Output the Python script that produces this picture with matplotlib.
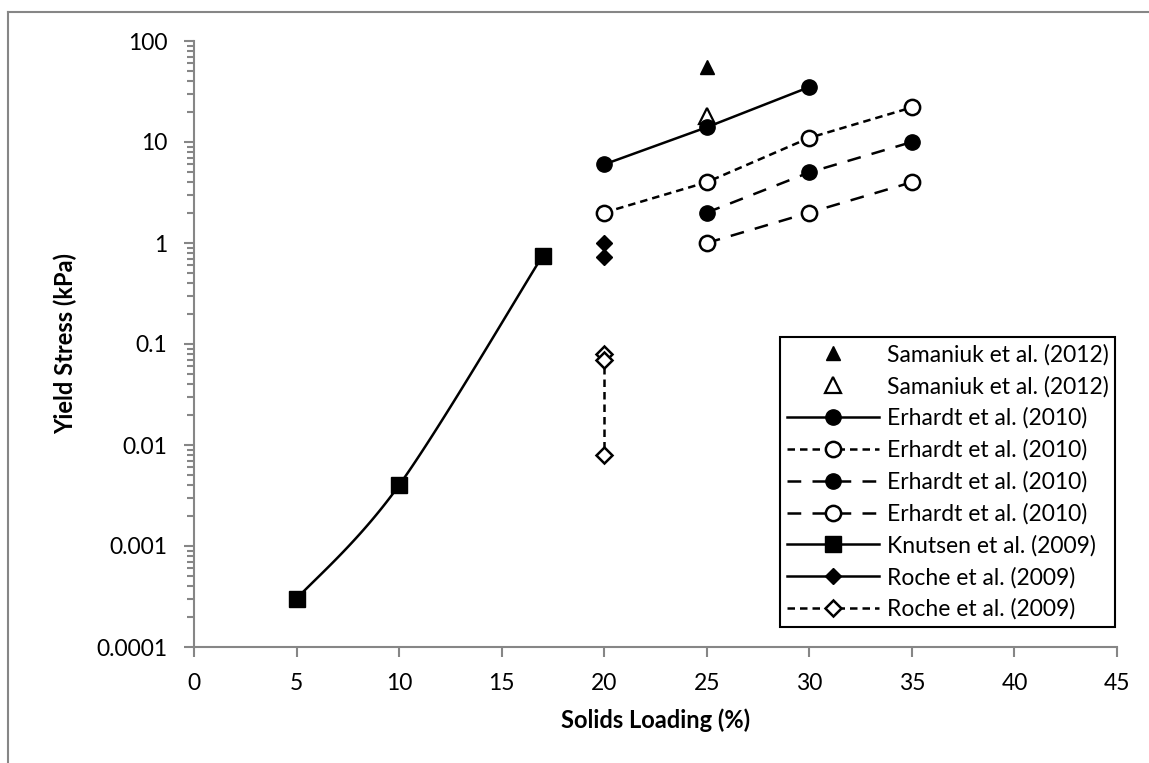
import numpy as np
import matplotlib
matplotlib.use("Agg")
import matplotlib.pyplot as plt
from matplotlib.lines import Line2D
from matplotlib.ticker import LogLocator, NullFormatter, FixedLocator

plt.rcParams['font.family'] = ['Lato', 'DejaVu Sans']

# ---- data ----
sam1_x = [25]
sam1_y = [55]
sam2_x = [25]
sam2_y = [18]
erh1_x = [20, 25, 30]
erh1_y = [6, 14, 35]
erh2_x = [20, 25, 30, 35]
erh2_y = [2, 4, 11, 22]
erh3_x = [25, 30, 35]
erh3_y = [2, 5, 10]
erh4_x = [25, 30, 35]
erh4_y = [1, 2, 4]
knu_x = [5, 10, 17]
knu_y = [0.0003, 0.004, 0.75]
roc1_x = [20, 20]
roc1_y = [1, 0.72]
roc2_x = [20, 20, 20]
roc2_y = [0.08, 0.07, 0.008]

labels = ["Samaniuk et al. (2012)", "Samaniuk et al. (2012)",
          "Erhardt et al. (2010)", "Erhardt et al. (2010)",
          "Erhardt et al. (2010)", "Erhardt et al. (2010)",
          "Knutsen et al. (2009)", "Roche et al. (2009)", "Roche et al. (2009)"]
x_ticks = [0, 5, 10, 15, 20, 25, 30, 35, 40, 45]
y_ticks = [0.0001, 0.001, 0.01, 0.1, 1, 10, 100]
y_ticklabels = ["0.0001", "0.001", "0.01", "0.1", "1", "10", "100"]

TICK_FS = 16.5
LABEL_FS = 17
LEG_FS = 16.5

W, H = 1149, 763
fig = plt.figure(figsize=(W / 100, H / 100), dpi=100)
ax = fig.add_axes([194 / W, 1 - 647 / H, (1117 - 194) / W, (647 - 41) / H])

# outer chart border (partially visible)
fig.add_artist(Line2D([8 / W, 8 / W], [0, 1 - 12 / H], color='#868686', lw=1.5, transform=fig.transFigure))
fig.add_artist(Line2D([8 / W, 1], [1 - 12 / H, 1 - 12 / H], color='#868686', lw=1.5, transform=fig.transFigure))

ax.set_xlim(0, 45)
ax.set_yscale('log')
ax.set_ylim(0.0001, 100)

ms = 11
lw = 1.8
short_dash = (0, (3, 2))
long_dash = (0, (5.5, 4.5))

h_sam1, = ax.plot(sam1_x, sam1_y, linestyle='none', marker='^', ms=10, color='black')
h_sam2, = ax.plot(sam2_x, sam2_y, linestyle='none', marker='^', ms=11, mfc='white', mec='black', mew=1.6)
h_e1, = ax.plot(erh1_x, erh1_y, '-', marker='o', ms=ms, color='black', lw=lw)
h_e2, = ax.plot(erh2_x, erh2_y, linestyle=short_dash, marker='o', ms=ms, mfc='white', mec='black', mew=1.8, color='black', lw=lw)
h_e3, = ax.plot(erh3_x, erh3_y, linestyle=long_dash, marker='o', ms=ms, color='black', lw=lw)
h_e4, = ax.plot(erh4_x, erh4_y, linestyle=long_dash, marker='o', ms=ms, mfc='white', mec='black', mew=1.8, color='black', lw=lw)

# Knutsen: smoothed line (Bezier through the points, computed in display space)
fig.canvas.draw()
pts = ax.transData.transform(np.column_stack([knu_x, knu_y]))
P = np.vstack([pts[0], pts, pts[-1]])
curve = []
for i in range(1, len(P) - 2):
    p0, p1, p2, p3 = P[i - 1], P[i], P[i + 1], P[i + 2]
    c1 = p1 + (p2 - p0) / 6
    c2 = p2 - (p3 - p1) / 6
    t = np.linspace(0, 1, 60)[:, None]
    seg = ((1 - t) ** 3) * p1 + 3 * ((1 - t) ** 2) * t * c1 + 3 * (1 - t) * t ** 2 * c2 + t ** 3 * p2
    curve.append(seg)
curve = np.vstack(curve)
cd = ax.transData.inverted().transform(curve)
ax.plot(cd[:, 0], cd[:, 1], '-', color='black', lw=lw)
ax.plot(knu_x, knu_y, linestyle='none', marker='s', ms=ms, color='black')
h_k = Line2D([], [], color='black', lw=lw, marker='s', ms=ms)

h_r1, = ax.plot(roc1_x, roc1_y, '-', marker='D', ms=8, color='black', lw=lw)
h_r2, = ax.plot(roc2_x, roc2_y, linestyle=short_dash, marker='D', ms=8, mfc='white', mec='black', mew=1.8, color='black', lw=lw)

# axes styling
for s in ['top', 'right']:
    ax.spines[s].set_visible(False)
for s in ['left', 'bottom']:
    ax.spines[s].set_color('#868686')
    ax.spines[s].set_linewidth(1.5)

ax.xaxis.set_major_locator(FixedLocator(x_ticks))
ax.set_xticklabels([str(v) for v in x_ticks], fontsize=TICK_FS)
ax.yaxis.set_major_locator(FixedLocator(y_ticks))
ax.set_yticklabels(y_ticklabels, fontsize=TICK_FS)
ax.yaxis.set_minor_locator(LogLocator(base=10, subs=np.arange(2, 10), numticks=20))
ax.yaxis.set_minor_formatter(NullFormatter())
ax.tick_params(axis='both', which='major', direction='out', length=7, width=1.5, color='#868686', pad=12)
ax.tick_params(axis='y', which='minor', direction='out', length=5, width=1.5, color='#868686')

ax.set_xlabel('Solids Loading (%)', fontsize=LABEL_FS, fontweight='bold', labelpad=10)
ax.set_ylabel('Yield Stress (kPa)', fontsize=LABEL_FS, fontweight='bold', labelpad=14)

leg = ax.legend([h_sam1, h_sam2, h_e1, h_e2, h_e3, h_e4, h_k, h_r1, h_r2], labels,
                loc='upper left', bbox_to_anchor=((780 - 194) / (1117 - 194), 1 - (337 - 41) / (647 - 41)),
                prop={'size': LEG_FS}, frameon=True, fancybox=False, edgecolor='black', framealpha=1,
                handlelength=4.0, handletextpad=0.35, labelspacing=0.45, borderpad=0.3, borderaxespad=0)
leg.get_frame().set_linewidth(1.5)

fig.savefig('out.png', dpi=100)
